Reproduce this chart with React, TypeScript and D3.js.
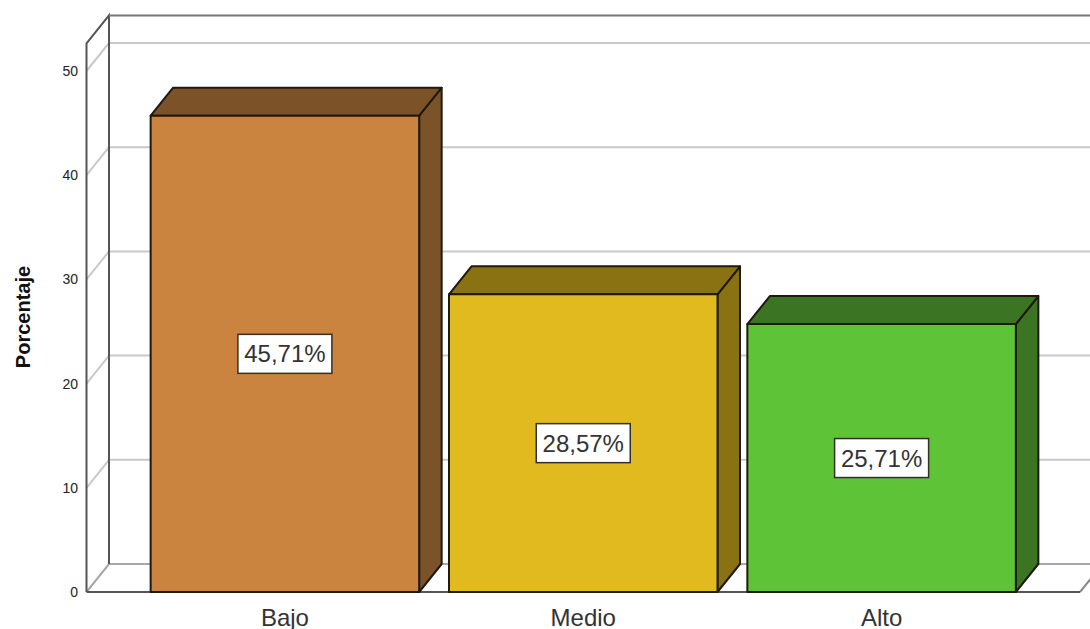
import React from "react";
import * as d3 from "d3";

const categories = ["Bajo", "Medio", "Alto"];
const percentages = [45.71, 28.57, 25.71];
const labels = ["45,71%", "28,57%", "25,71%"];
const yTicks = [0, 10, 20, 30, 40, 50];
const frontFills = ["#ca843f", "#e0ba1e", "#5fc338"];
const sideFills = ["#7c5228", "#8a7212", "#3b7524"];

const WIDTH = 1090;
const HEIGHT = 629;
const DEPTH_X = 22.5;
const DEPTH_Y = 28;
const AXIS_TOP_VALUE = 52.65;

const y = d3.scaleLinear().domain([0, 50]).range([592, 71]);
const x = d3
  .scaleBand<string>()
  .domain(categories)
  .range([86.5, 1080])
  .paddingInner(0.1)
  .paddingOuter(0.215);

const FONT = "'Liberation Sans', Arial, sans-serif";
const poly = (pts: [number, number][]) => pts.map((p) => p.join(",")).join(" ");

export default function App() {
  const left = x.range()[0];
  const right = x.range()[1];
  const base = y(0);
  const top = y(AXIS_TOP_VALUE);

  return (
    <svg
      width={WIDTH}
      height={HEIGHT}
      viewBox={`0 0 ${WIDTH} ${HEIGHT}`}
      style={{ position: "absolute", left: 0, top: 0, background: "#fff" }}
    >
      {/* Gridlines wrapping the side wall and the back wall */}
      {yTicks.slice(1).map((t) => (
        <g key={t} stroke="#c9c9c9" strokeWidth={2} fill="none">
          <line x1={left} y1={y(t)} x2={left + DEPTH_X} y2={y(t) - DEPTH_Y} />
          <line x1={left + DEPTH_X} y1={y(t) - DEPTH_Y} x2={WIDTH} y2={y(t) - DEPTH_Y} />
        </g>
      ))}

      {/* Floor */}
      <line x1={left} y1={base} x2={left + DEPTH_X} y2={base - DEPTH_Y} stroke="#a8a8a8" strokeWidth={2} />
      <line x1={left + DEPTH_X} y1={base - DEPTH_Y} x2={WIDTH} y2={base - DEPTH_Y} stroke="#a8a8a8" strokeWidth={2} />
      <line x1={right} y1={base} x2={right + DEPTH_X} y2={base - DEPTH_Y} stroke="#8a8a8a" strokeWidth={2} />

      {/* Wall frame */}
      <path
        d={`M${left},${base}V${top}L${left + DEPTH_X},${top - DEPTH_Y}V${base - DEPTH_Y}`}
        fill="none"
        stroke="#555"
        strokeWidth={2}
      />
      <line x1={left + DEPTH_X} y1={top - DEPTH_Y} x2={WIDTH} y2={top - DEPTH_Y} stroke="#777" strokeWidth={2} />
      <line x1={left} y1={base} x2={right} y2={base} stroke="#555" strokeWidth={2} />

      {/* Y axis tick labels */}
      {yTicks.map((t) => (
        <text
          key={t}
          x={78}
          y={y(t)}
          dy="0.36em"
          textAnchor="end"
          fontFamily={FONT}
          fontSize={14}
          fill="#222"
        >
          {t}
        </text>
      ))}

      <text
        transform="translate(30,317) rotate(-90)"
        textAnchor="middle"
        fontFamily={FONT}
        fontSize={20}
        fontWeight="bold"
        fill="#111"
      >
        Porcentaje
      </text>

      {/* Extruded bars */}
      {categories.map((c, i) => {
        const x0 = x(c)!;
        const x1 = x0 + x.bandwidth();
        const yTop = y(percentages[i]);
        return (
          <g key={c} stroke="#1f1a10" strokeWidth={2} strokeLinejoin="round">
            <polygon
              points={poly([
                [x1, yTop],
                [x1 + DEPTH_X, yTop - DEPTH_Y],
                [x1 + DEPTH_X, base - DEPTH_Y],
                [x1, base],
              ])}
              fill={sideFills[i]}
            />
            <polygon
              points={poly([
                [x0, yTop],
                [x0 + DEPTH_X, yTop - DEPTH_Y],
                [x1 + DEPTH_X, yTop - DEPTH_Y],
                [x1, yTop],
              ])}
              fill={sideFills[i]}
            />
            <rect x={x0} y={yTop} width={x.bandwidth()} height={base - yTop} fill={frontFills[i]} />
          </g>
        );
      })}

      {/* Value labels centred on each bar's front face */}
      {categories.map((c, i) => {
        const cx = x(c)! + x.bandwidth() / 2;
        const cy = (y(percentages[i]) + base) / 2;
        return (
          <g key={c}>
            <rect
              x={cx - 47}
              y={cy - 19.5}
              width={94}
              height={39}
              fill="#fff"
              stroke="#33302a"
              strokeWidth={1.5}
            />
            <text
              x={cx}
              y={cy}
              dy="0.36em"
              textAnchor="middle"
              fontFamily={FONT}
              fontSize={24}
              fill="#333"
            >
              {labels[i]}
            </text>
          </g>
        );
      })}

      {/* Category labels */}
      {categories.map((c) => (
        <text
          key={c}
          x={x(c)! + x.bandwidth() / 2}
          y={626}
          textAnchor="middle"
          fontFamily={FONT}
          fontSize={24}
          fill="#333"
        >
          {c}
        </text>
      ))}
    </svg>
  );
}
